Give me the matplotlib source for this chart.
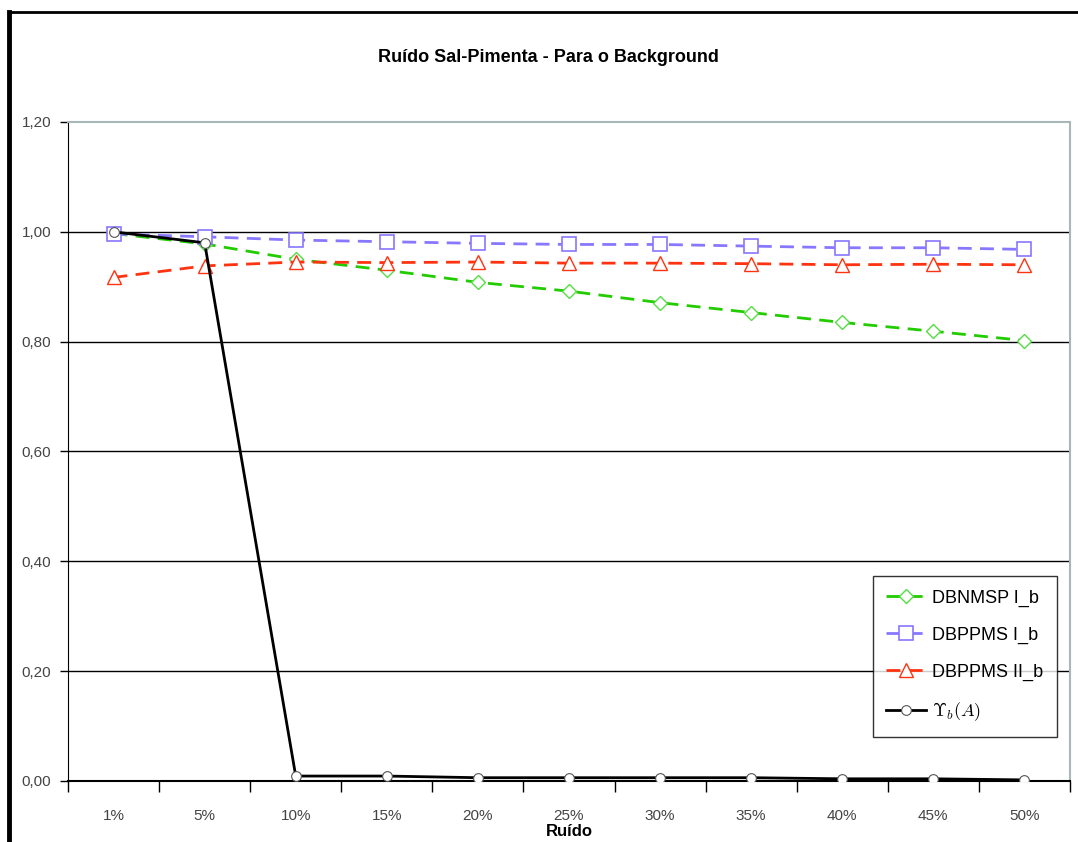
import matplotlib
matplotlib.use("Agg")
import matplotlib.pyplot as plt
from matplotlib.lines import Line2D
from matplotlib import font_manager

categories = ["1%", "5%", "10%", "15%", "20%", "25%", "30%", "35%", "40%", "45%", "50%"]
dbnmsp_i = [0.997, 0.978, 0.950, 0.930, 0.908, 0.892, 0.871, 0.853, 0.835, 0.819, 0.802]
dbppms_i = [0.996, 0.991, 0.985, 0.982, 0.979, 0.977, 0.977, 0.974, 0.971, 0.971, 0.968]
dbppms_ii = [0.917, 0.938, 0.945, 0.944, 0.945, 0.943, 0.943, 0.942, 0.940, 0.941, 0.940]
upsilon = [1.000, 0.980, 0.009, 0.009, 0.006, 0.006, 0.006, 0.006, 0.004, 0.004, 0.002]
yticks = [0.0, 0.2, 0.4, 0.6, 0.8, 1.0, 1.2]
ytick_labels = ["0,00", "0,20", "0,40", "0,60", "0,80", "1,00", "1,20"]

names = {f.name for f in font_manager.fontManager.ttflist}
narrow = "Liberation Sans Narrow" if "Liberation Sans Narrow" in names else "Liberation Sans"
plt.rcParams["mathtext.fontset"] = "cm"

fig = plt.figure(figsize=(10.78, 8.42), dpi=100)
ax = fig.add_axes([68/1078, 1-781/842, (1070-68)/1078, (781-122)/842])

x = list(range(len(categories)))
ax.plot(x, dbnmsp_i, color="#22cc00", lw=2, ls=(0, (5, 3)), marker="D", ms=7,
        mfc="white", mec="#55dd44", mew=1, label="DBNMSP I_b", zorder=3)
ax.plot(x, dbppms_i, color="#8877ff", lw=2, ls=(0, (5, 3)), marker="s", ms=10,
        mfc="white", mec="#8877ff", mew=1.2, label="DBPPMS I_b", zorder=3)
ax.plot(x, dbppms_ii, color="#ff3311", lw=2, ls=(0, (5, 3)), marker="^", ms=10,
        mfc="white", mec="#ff3311", mew=1, label="DBPPMS II_b", zorder=3)
ax.plot(x, upsilon, color="black", lw=2, marker="o", ms=7,
        mfc="white", mec="#555555", mew=0.8, label=r"$\Upsilon_b(A)$", zorder=4)

ax.set_xlim(-0.5, len(categories) - 0.5)
ax.set_ylim(0, 1.2)
ax.set_yticks(yticks)
ax.set_yticklabels(ytick_labels, fontfamily=narrow, fontsize=11, color="#444444")
ax.set_xticks(x)
ax.set_xticklabels(categories, fontfamily=narrow, fontsize=11, color="#444444")
ax.set_xticks([i + 0.5 for i in range(-1, len(categories))], minor=True)
ax.tick_params(axis="x", which="major", length=0, pad=20)
ax.tick_params(axis="x", which="minor", length=8, width=1, direction="out")
ax.tick_params(axis="y", length=6, width=1, direction="out", pad=6)

for v in yticks[1:-1]:
    ax.axhline(v, color="black", lw=1, zorder=1)

ax.spines["left"].set_color("black")
ax.spines["bottom"].set_color("black")
ax.spines["bottom"].set_linewidth(1.5)
ax.spines["top"].set_color("#a8b8b8")
ax.spines["right"].set_color("#a8b8b8")
ax.spines["top"].set_linewidth(1.5)
ax.spines["right"].set_linewidth(1.5)

ax.set_xlabel("Ruído", fontfamily=narrow, fontsize=12, fontweight="bold", labelpad=1)
fig.text(0.509, 1-57/842, "Ruído Sal-Pimenta - Para o Background", ha="center", va="center",
         fontfamily=narrow, fontsize=13, fontweight="bold")

leg = ax.legend(loc="lower right", bbox_to_anchor=(0.987, 0.0668), borderaxespad=0,
                frameon=True, fancybox=False, edgecolor="black",
                prop={"family": narrow, "size": 13}, handlelength=2.2,
                labelspacing=1.1, borderpad=0.75, handletextpad=0.35)
leg.get_frame().set_linewidth(1)

# figure border
fig.add_artist(Line2D([9/1078, 1.0], [1-12/842, 1-12/842], color="black", lw=2))
fig.add_artist(Line2D([9/1078, 9/1078], [0, 1-12/842], color="black", lw=3.5))

fig.savefig("out.png", dpi=100, facecolor="white")
